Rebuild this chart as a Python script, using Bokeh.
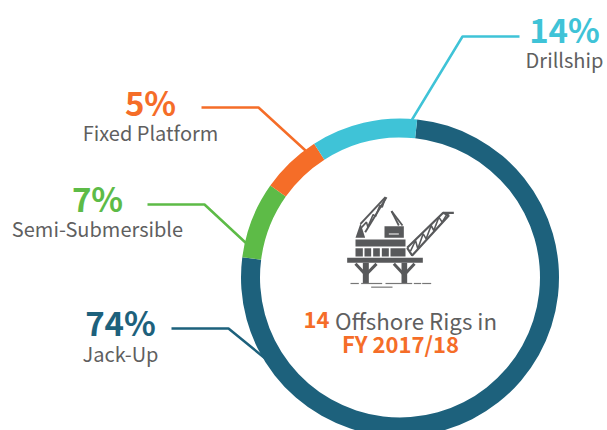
from bokeh.plotting import figure
from bokeh.embed import file_html
from bokeh.resources import INLINE
from bokeh.core.properties import value
import math

categories = ["Jack-Up", "Semi-Submersible", "Fixed Platform", "Drillship"]
percent_labels = ["74%", "7%", "5%", "14%"]
# share of the ring each segment actually occupies in the picture (percent)
ring_shares = [75.3, 7.8, 6.1, 10.8]
colors = ["#1d617c", "#5dbb47", "#f56d28", "#3fc3d7"]
GRAY = "#5f5f5f"
ICON = "#58595b"
FONT = value("Noto Sans CJK SC")

W, H = 607, 430
p = figure(width=W, height=H, x_range=(0, W), y_range=(0, H),
           output_backend="svg", toolbar_location=None, min_border=0)
p.axis.visible = False
p.grid.visible = False
p.outline_line_color = None
p.background_fill_color = "white"


def Y(py):
    return 430 - py


# leader lines
leaders = {
    "Jack-Up": ([171, 228, 277], [328, 328, 368]),
    "Semi-Submersible": ([147, 204, 246], [204, 204, 243]),
    "Fixed Platform": ([201, 258, 305], [107, 107, 150]),
    "Drillship": ([519, 462, 411], [36, 36, 120]),
}
for c, col in zip(categories, colors):
    xs, ys = leaders[c]
    p.line(xs, [Y(v) for v in ys], line_color=col, line_width=2.5)

# ring, drawn clockwise from the top-right start
cx, cy, r_out, r_in = 399.5, 277, 159, 140
start = 90 - 6.2  # degrees, math convention
for share, col in zip(ring_shares, colors):
    sweep = share * 3.6
    end = start - sweep
    p.annular_wedge(x=[cx], y=[Y(cy)], inner_radius=r_in, outer_radius=r_out,
                    start_angle=math.radians(end), end_angle=math.radians(start),
                    fill_color=col, line_color=None)
    start = end

# labels: x centre, y of percentage, y of name
label_pos = {
    "Jack-Up": (120, 321, 353),
    "Semi-Submersible": (97, 197, 228),
    "Fixed Platform": (150, 101, 132),
    "Drillship": (564, 28, 59),
}
for c, pct, col in zip(categories, percent_labels, colors):
    x, y1, y2 = label_pos[c]
    p.text([x], [Y(y1)], text=[pct], text_color=col, text_font=FONT, text_font_size="33px",
           text_font_style="bold", text_align="center", text_baseline="alphabetic")
    p.text([x], [Y(y2)], text=[c], text_color=GRAY, text_font=FONT, text_font_size="20px",
           text_align="center", text_baseline="alphabetic")

# centre caption
p.text([303], [Y(319)], text=["14"], text_color=colors[2], text_font=FONT, text_font_size="22px",
       text_font_style="bold", text_align="left", text_baseline="alphabetic")
p.text([334.5], [Y(319)], text=["Offshore Rigs in"], text_color=GRAY, text_font=FONT, text_font_size="22.3px",
       text_align="left", text_baseline="alphabetic")
p.text([400], [Y(342)], text=["FY 2017/18"], text_color=colors[2], text_font=FONT, text_font_size="22px",
       text_font_style="bold", text_align="center", text_baseline="alphabetic")


# rig icon (decoration), traced on a 3x crop whose origin is (330, 180)
def ix(v):
    return 330 + v / 3


def iy(v):
    return Y(180 + v / 3)


def poly(pts, col=ICON):
    p.patch([ix(a) for a, b in pts], [iy(b) for a, b in pts], fill_color=col, line_color=None)


def rect(x0, y0, x1, y1, col=ICON):
    poly([(x0, y0), (x1, y0), (x1, y1), (x0, y1)], col)


def seg(pts, w=1.5, col=ICON):
    p.line([ix(a) for a, b in pts], [iy(b) for a, b in pts], line_color=col, line_width=w)


# left crane
poly([(75, 172), (104, 172), (90, 128)])
seg([(90, 130), (165, 50)], 2)
seg([(104, 155), (168, 50)], 2)
seg([(92, 142), (108, 125), (112, 140), (128, 102), (135, 108), (148, 75), (155, 80), (165, 52)], 1.6)
# box + derrick
rect(162, 137, 220, 172)
rect(175, 158, 205, 163, "#c8c8c8")
seg([(183, 92), (205, 135)], 1.8)
seg([(183, 92), (216, 135)], 1.8)
# deck
rect(75, 177, 225, 198)
for a, b in [(75, 97), (102, 122), (128, 148), (154, 175), (180, 225)]:
    rect(a, 203, b, 228)
rect(50, 232, 277, 247)
# legs
rect(97, 247, 115, 310)
rect(213, 247, 230, 310)
for a, b in [((75, 250), (105, 282)), ((138, 250), (107, 282)), ((190, 250), (220, 282)), ((252, 250), (222, 282))]:
    seg([a, b], 3)
# water
for a, b in [(60, 85), (92, 155), (165, 245), (250, 272), (275, 302)]:
    seg([(a, 309), (b, 309)], 1.2, "#777777")
seg([(122, 320), (186, 320)], 1.2, "#777777")
# right crane
seg([(230, 202), (338, 97), (370, 97)], 2.2)
seg([(230, 202), (245, 225), (355, 105), (338, 97)], 2.2)
seg([(240, 212), (255, 180), (262, 205), (278, 160), (287, 175), (302, 135), (310, 150), (325, 110), (335, 125), (350, 100)], 1.6)

open("out.html", "w").write(file_html(p, INLINE))
